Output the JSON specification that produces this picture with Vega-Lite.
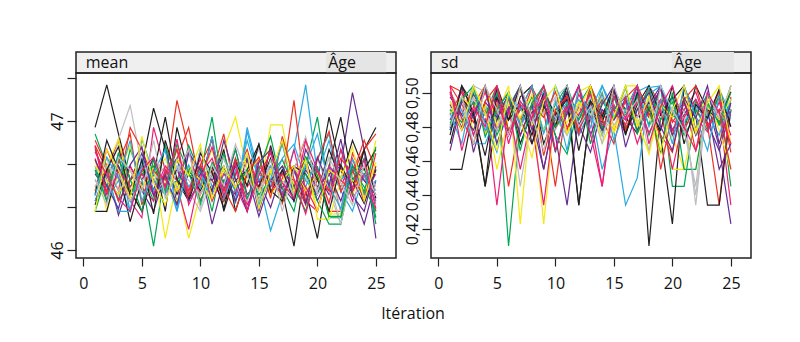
{
"$schema":"https://vega.github.io/schema/vega-lite/v6.json",
"autosize":{"type":"pad"},
"padding":{"left":48,"top":51,"right":5,"bottom":5},
"background":"white",
"config":{"font":"Open Sans","view":{"stroke":"#222","strokeWidth":1.5},"axis":{"domain":false,"grid":false,"tickColor":"#222","labelColor":"#111","labelFontSize":16,"labelFont":"Open Sans","tickWidth":1.2},
 "range":{"category":["#231f20","#ee3124","#00a651","#29abe2","#662d91","#f5e90f","#bcbec0","#ec1e79"]}},
"title":{"text":"Itération","orient":"bottom","anchor":"middle","fontSize":16,"fontWeight":"normal","font":"Open Sans","color":"#111","offset":14,"dx":13},
"datasets":{"traces":[
{"k":1,"i":1,"m":46.95,"s":0.478},{"k":1,"i":2,"m":47.28,"s":0.504},{"k":1,"i":3,"m":46.90,"s":0.493},{"k":1,"i":4,"m":46.54,"s":0.4825},{"k":1,"i":5,"m":46.65,"s":0.502},{"k":1,"i":6,"m":47.10,"s":0.475},{"k":1,"i":7,"m":46.78,"s":0.4975},{"k":1,"i":8,"m":46.43,"s":0.504},{"k":1,"i":9,"m":46.62,"s":0.470},{"k":1,"i":10,"m":46.49,"s":0.487},{"k":1,"i":11,"m":46.88,"s":0.504},{"k":1,"i":12,"m":46.30,"s":0.478},{"k":1,"i":13,"m":46.59,"s":0.4945},{"k":1,"i":14,"m":46.71,"s":0.484},{"k":1,"i":15,"m":46.38,"s":0.5005},{"k":1,"i":16,"m":46.81,"s":0.490},{"k":1,"i":17,"m":46.46,"s":0.504},{"k":1,"i":18,"m":46.03,"s":0.410},{"k":1,"i":19,"m":46.65,"s":0.487},{"k":1,"i":20,"m":46.54,"s":0.496},{"k":1,"i":21,"m":47.03,"s":0.504},{"k":1,"i":22,"m":46.62,"s":0.478},{"k":1,"i":23,"m":46.43,"s":0.493},{"k":1,"i":24,"m":46.78,"s":0.4825},{"k":1,"i":25,"m":46.95,"s":0.504},
{"k":2,"i":1,"m":46.81,"s":0.5005},{"k":2,"i":2,"m":46.62,"s":0.487},{"k":2,"i":3,"m":46.85,"s":0.504},{"k":2,"i":4,"m":46.46,"s":0.476},{"k":2,"i":5,"m":46.30,"s":0.493},{"k":2,"i":6,"m":46.65,"s":0.445},{"k":2,"i":7,"m":46.54,"s":0.484},{"k":2,"i":8,"m":47.16,"s":0.503},{"k":2,"i":9,"m":46.78,"s":0.490},{"k":2,"i":10,"m":46.38,"s":0.445},{"k":2,"i":11,"m":46.59,"s":0.496},{"k":2,"i":12,"m":46.90,"s":0.478},{"k":2,"i":13,"m":46.43,"s":0.504},{"k":2,"i":14,"m":46.70,"s":0.4885},{"k":2,"i":15,"m":46.49,"s":0.478},{"k":2,"i":16,"m":46.78,"s":0.4975},{"k":2,"i":17,"m":46.36,"s":0.4855},{"k":2,"i":18,"m":46.62,"s":0.504},{"k":2,"i":19,"m":46.86,"s":0.493},{"k":2,"i":20,"m":46.46,"s":0.475},{"k":2,"i":21,"m":46.65,"s":0.502},{"k":2,"i":22,"m":46.30,"s":0.490},{"k":2,"i":23,"m":46.75,"s":0.481},{"k":2,"i":24,"m":46.54,"s":0.434},{"k":2,"i":25,"m":46.43,"s":0.4975},
{"k":3,"i":1,"m":46.90,"s":0.490},{"k":3,"i":2,"m":46.65,"s":0.478},{"k":3,"i":3,"m":46.38,"s":0.5005},{"k":3,"i":4,"m":46.78,"s":0.487},{"k":3,"i":5,"m":46.54,"s":0.504},{"k":3,"i":6,"m":46.03,"s":0.410},{"k":3,"i":7,"m":46.62,"s":0.4825},{"k":3,"i":8,"m":46.46,"s":0.4975},{"k":3,"i":9,"m":46.81,"s":0.478},{"k":3,"i":10,"m":46.59,"s":0.493},{"k":3,"i":11,"m":47.03,"s":0.504},{"k":3,"i":12,"m":46.43,"s":0.484},{"k":3,"i":13,"m":46.71,"s":0.496},{"k":3,"i":14,"m":46.30,"s":0.475},{"k":3,"i":15,"m":46.62,"s":0.502},{"k":3,"i":16,"m":46.49,"s":0.4885},{"k":3,"i":17,"m":46.86,"s":0.499},{"k":3,"i":18,"m":46.38,"s":0.481},{"k":3,"i":19,"m":46.65,"s":0.504},{"k":3,"i":20,"m":47.03,"s":0.445},{"k":3,"i":21,"m":46.46,"s":0.445},{"k":3,"i":22,"m":46.78,"s":0.490},{"k":3,"i":23,"m":46.54,"s":0.478},{"k":3,"i":24,"m":46.65,"s":0.499},{"k":3,"i":25,"m":46.25,"s":0.445},
{"k":4,"i":1,"m":46.54,"s":0.484},{"k":4,"i":2,"m":46.43,"s":0.4975},{"k":4,"i":3,"m":46.75,"s":0.475},{"k":4,"i":4,"m":46.30,"s":0.493},{"k":4,"i":5,"m":46.86,"s":0.470},{"k":4,"i":6,"m":46.59,"s":0.4885},{"k":4,"i":7,"m":46.46,"s":0.502},{"k":4,"i":8,"m":46.65,"s":0.481},{"k":4,"i":9,"m":46.38,"s":0.4945},{"k":4,"i":10,"m":46.78,"s":0.4855},{"k":4,"i":11,"m":46.49,"s":0.504},{"k":4,"i":12,"m":46.62,"s":0.478},{"k":4,"i":13,"m":46.36,"s":0.4915},{"k":4,"i":14,"m":46.92,"s":0.455},{"k":4,"i":15,"m":46.54,"s":0.478},{"k":4,"i":16,"m":46.15,"s":0.434},{"k":4,"i":17,"m":46.43,"s":0.450},{"k":4,"i":18,"m":46.78,"s":0.499},{"k":4,"i":19,"m":47.28,"s":0.504},{"k":4,"i":20,"m":46.59,"s":0.487},{"k":4,"i":21,"m":46.85,"s":0.496},{"k":4,"i":22,"m":46.46,"s":0.475},{"k":4,"i":23,"m":46.65,"s":0.5005},{"k":4,"i":24,"m":46.38,"s":0.484},{"k":4,"i":25,"m":46.62,"s":0.493},
{"k":5,"i":1,"m":46.38,"s":0.4795},{"k":5,"i":2,"m":46.62,"s":0.504},{"k":5,"i":3,"m":46.27,"s":0.465},{"k":5,"i":4,"m":46.54,"s":0.490},{"k":5,"i":5,"m":46.75,"s":0.478},{"k":5,"i":6,"m":46.46,"s":0.4975},{"k":5,"i":7,"m":46.81,"s":0.484},{"k":5,"i":8,"m":46.36,"s":0.470},{"k":5,"i":9,"m":46.59,"s":0.493},{"k":5,"i":10,"m":46.65,"s":0.475},{"k":5,"i":11,"m":46.20,"s":0.434},{"k":5,"i":12,"m":46.54,"s":0.487},{"k":5,"i":13,"m":46.43,"s":0.499},{"k":5,"i":14,"m":46.71,"s":0.4795},{"k":5,"i":15,"m":46.30,"s":0.490},{"k":5,"i":16,"m":46.62,"s":0.476},{"k":5,"i":17,"m":46.49,"s":0.496},{"k":5,"i":18,"m":46.38,"s":0.4855},{"k":5,"i":19,"m":46.78,"s":0.503},{"k":5,"i":20,"m":46.59,"s":0.478},{"k":5,"i":21,"m":46.43,"s":0.490},{"k":5,"i":22,"m":46.65,"s":0.477},{"k":5,"i":23,"m":47.22,"s":0.4945},{"k":5,"i":24,"m":46.78,"s":0.468},{"k":5,"i":25,"m":46.09,"s":0.423},
{"k":6,"i":1,"m":46.70,"s":0.493},{"k":6,"i":2,"m":46.30,"s":0.4825},{"k":6,"i":3,"m":46.59,"s":0.502},{"k":6,"i":4,"m":46.81,"s":0.476},{"k":6,"i":5,"m":46.46,"s":0.487},{"k":6,"i":6,"m":46.65,"s":0.504},{"k":6,"i":7,"m":46.09,"s":0.423},{"k":6,"i":8,"m":46.54,"s":0.496},{"k":6,"i":9,"m":46.09,"s":0.423},{"k":6,"i":10,"m":46.43,"s":0.490},{"k":6,"i":11,"m":46.65,"s":0.4765},{"k":6,"i":12,"m":46.78,"s":0.5005},{"k":6,"i":13,"m":47.03,"s":0.504},{"k":6,"i":14,"m":46.62,"s":0.484},{"k":6,"i":15,"m":46.38,"s":0.478},{"k":6,"i":16,"m":46.97,"s":0.504},{"k":6,"i":17,"m":46.97,"s":0.504},{"k":6,"i":18,"m":46.49,"s":0.487},{"k":6,"i":19,"m":46.30,"s":0.464},{"k":6,"i":20,"m":46.59,"s":0.475},{"k":6,"i":21,"m":46.28,"s":0.455},{"k":6,"i":22,"m":46.28,"s":0.455},{"k":6,"i":23,"m":46.54,"s":0.490},{"k":6,"i":24,"m":46.43,"s":0.481},{"k":6,"i":25,"m":46.85,"s":0.504},
{"k":7,"i":1,"m":46.62,"s":0.499},{"k":7,"i":2,"m":46.49,"s":0.490},{"k":7,"i":3,"m":46.86,"s":0.504},{"k":7,"i":4,"m":47.12,"s":0.5005},{"k":7,"i":5,"m":46.65,"s":0.484},{"k":7,"i":6,"m":46.43,"s":0.496},{"k":7,"i":7,"m":46.59,"s":0.445},{"k":7,"i":8,"m":46.71,"s":0.487},{"k":7,"i":9,"m":46.46,"s":0.499},{"k":7,"i":10,"m":46.30,"s":0.478},{"k":7,"i":11,"m":46.56,"s":0.493},{"k":7,"i":12,"m":46.65,"s":0.4855},{"k":7,"i":13,"m":46.38,"s":0.4975},{"k":7,"i":14,"m":46.59,"s":0.475},{"k":7,"i":15,"m":46.78,"s":0.4885},{"k":7,"i":16,"m":46.49,"s":0.502},{"k":7,"i":17,"m":46.62,"s":0.4825},{"k":7,"i":18,"m":46.43,"s":0.493},{"k":7,"i":19,"m":46.54,"s":0.4855},{"k":7,"i":20,"m":46.71,"s":0.496},{"k":7,"i":21,"m":46.46,"s":0.490},{"k":7,"i":22,"m":46.20,"s":0.434},{"k":7,"i":23,"m":46.65,"s":0.499},{"k":7,"i":24,"m":46.59,"s":0.487},{"k":7,"i":25,"m":46.43,"s":0.4945},
{"k":8,"i":1,"m":46.46,"s":0.487},{"k":8,"i":2,"m":46.78,"s":0.5005},{"k":8,"i":3,"m":46.56,"s":0.475},{"k":8,"i":4,"m":46.38,"s":0.4945},{"k":8,"i":5,"m":46.25,"s":0.434},{"k":8,"i":6,"m":46.95,"s":0.4885},{"k":8,"i":7,"m":46.62,"s":0.502},{"k":8,"i":8,"m":46.49,"s":0.4825},{"k":8,"i":9,"m":46.16,"s":0.434},{"k":8,"i":10,"m":46.59,"s":0.490},{"k":8,"i":11,"m":46.71,"s":0.478},{"k":8,"i":12,"m":46.43,"s":0.499},{"k":8,"i":13,"m":46.62,"s":0.4855},{"k":8,"i":14,"m":46.35,"s":0.445},{"k":8,"i":15,"m":46.54,"s":0.493},{"k":8,"i":16,"m":46.65,"s":0.481},{"k":8,"i":17,"m":46.46,"s":0.504},{"k":8,"i":18,"m":46.78,"s":0.487},{"k":8,"i":19,"m":46.38,"s":0.496},{"k":8,"i":20,"m":46.30,"s":0.478},{"k":8,"i":21,"m":46.62,"s":0.490},{"k":8,"i":22,"m":46.49,"s":0.5005},{"k":8,"i":23,"m":46.71,"s":0.4795},{"k":8,"i":24,"m":46.43,"s":0.490},{"k":8,"i":25,"m":46.59,"s":0.434},
{"k":9,"i":1,"m":46.30,"s":0.455},{"k":9,"i":2,"m":46.30,"s":0.455},{"k":9,"i":3,"m":46.65,"s":0.490},{"k":9,"i":4,"m":46.46,"s":0.445},{"k":9,"i":5,"m":46.30,"s":0.484},{"k":9,"i":6,"m":46.59,"s":0.499},{"k":9,"i":7,"m":47.03,"s":0.470},{"k":9,"i":8,"m":46.54,"s":0.4885},{"k":9,"i":9,"m":46.38,"s":0.493},{"k":9,"i":10,"m":46.65,"s":0.481},{"k":9,"i":11,"m":46.46,"s":0.5005},{"k":9,"i":12,"m":46.78,"s":0.434},{"k":9,"i":13,"m":46.30,"s":0.490},{"k":9,"i":14,"m":46.59,"s":0.478},{"k":9,"i":15,"m":46.49,"s":0.4975},{"k":9,"i":16,"m":46.71,"s":0.4855},{"k":9,"i":17,"m":46.38,"s":0.476},{"k":9,"i":18,"m":46.62,"s":0.4945},{"k":9,"i":19,"m":46.46,"s":0.475},{"k":9,"i":20,"m":46.09,"s":0.423},{"k":9,"i":21,"m":46.65,"s":0.503},{"k":9,"i":22,"m":47.03,"s":0.487},{"k":9,"i":23,"m":46.54,"s":0.434},{"k":9,"i":24,"m":46.36,"s":0.434},{"k":9,"i":25,"m":46.62,"s":0.490},
{"k":10,"i":1,"m":46.85,"s":0.504},{"k":10,"i":2,"m":46.65,"s":0.493},{"k":10,"i":3,"m":46.46,"s":0.4825},{"k":10,"i":4,"m":46.95,"s":0.5005},{"k":10,"i":5,"m":46.78,"s":0.487},{"k":10,"i":6,"m":46.54,"s":0.496},{"k":10,"i":7,"m":46.43,"s":0.475},{"k":10,"i":8,"m":46.71,"s":0.4915},{"k":10,"i":9,"m":46.95,"s":0.504},{"k":10,"i":10,"m":46.49,"s":0.484},{"k":10,"i":11,"m":46.62,"s":0.4975},{"k":10,"i":12,"m":46.38,"s":0.478},{"k":10,"i":13,"m":46.59,"s":0.493},{"k":10,"i":14,"m":46.78,"s":0.487},{"k":10,"i":15,"m":46.46,"s":0.5005},{"k":10,"i":16,"m":46.65,"s":0.4795},{"k":10,"i":17,"m":46.54,"s":0.490},{"k":10,"i":18,"m":47.16,"s":0.502},{"k":10,"i":19,"m":46.43,"s":0.455},{"k":10,"i":20,"m":46.62,"s":0.4885},{"k":10,"i":21,"m":46.30,"s":0.496},{"k":10,"i":22,"m":46.30,"s":0.466},{"k":10,"i":23,"m":46.59,"s":0.487},{"k":10,"i":24,"m":46.78,"s":0.4975},{"k":10,"i":25,"m":46.90,"s":0.470},
{"k":11,"i":1,"m":46.30,"s":0.481},{"k":11,"i":2,"m":46.59,"s":0.496},{"k":11,"i":3,"m":46.71,"s":0.487},{"k":11,"i":4,"m":46.49,"s":0.502},{"k":11,"i":5,"m":46.62,"s":0.475},{"k":11,"i":6,"m":46.38,"s":0.4915},{"k":11,"i":7,"m":46.81,"s":0.504},{"k":11,"i":8,"m":46.54,"s":0.4825},{"k":11,"i":9,"m":46.43,"s":0.499},{"k":11,"i":10,"m":46.65,"s":0.475},{"k":11,"i":11,"m":46.30,"s":0.464},{"k":11,"i":12,"m":46.75,"s":0.493},{"k":11,"i":13,"m":46.46,"s":0.504},{"k":11,"i":14,"m":46.62,"s":0.4855},{"k":11,"i":15,"m":46.38,"s":0.4975},{"k":11,"i":16,"m":46.59,"s":0.478},{"k":11,"i":17,"m":46.70,"s":0.490},{"k":11,"i":18,"m":46.49,"s":0.502},{"k":11,"i":19,"m":46.30,"s":0.484},{"k":11,"i":20,"m":46.65,"s":0.4945},{"k":11,"i":21,"m":46.25,"s":0.475},{"k":11,"i":22,"m":46.25,"s":0.487},{"k":11,"i":23,"m":46.54,"s":0.499},{"k":11,"i":24,"m":46.71,"s":0.481},{"k":11,"i":25,"m":46.20,"s":0.490},
{"k":12,"i":1,"m":46.65,"s":0.499},{"k":12,"i":2,"m":46.38,"s":0.4855},{"k":12,"i":3,"m":46.54,"s":0.4945},{"k":12,"i":4,"m":46.30,"s":0.478},{"k":12,"i":5,"m":46.71,"s":0.490},{"k":12,"i":6,"m":46.46,"s":0.5005},{"k":12,"i":7,"m":46.59,"s":0.4825},{"k":12,"i":8,"m":46.30,"s":0.493},{"k":12,"i":9,"m":46.78,"s":0.4765},{"k":12,"i":10,"m":46.54,"s":0.504},{"k":12,"i":11,"m":46.43,"s":0.487},{"k":12,"i":12,"m":46.65,"s":0.496},{"k":12,"i":13,"m":46.38,"s":0.4795},{"k":12,"i":14,"m":46.95,"s":0.504},{"k":12,"i":15,"m":46.59,"s":0.490},{"k":12,"i":16,"m":46.49,"s":0.484},{"k":12,"i":17,"m":46.71,"s":0.5005},{"k":12,"i":18,"m":46.82,"s":0.504},{"k":12,"i":19,"m":46.54,"s":0.4885},{"k":12,"i":20,"m":46.43,"s":0.4975},{"k":12,"i":21,"m":46.65,"s":0.478},{"k":12,"i":22,"m":46.46,"s":0.4915},{"k":12,"i":23,"m":46.30,"s":0.484},{"k":12,"i":24,"m":46.59,"s":0.502},{"k":12,"i":25,"m":46.46,"s":0.487},
{"k":13,"i":1,"m":46.78,"s":0.493},{"k":13,"i":2,"m":46.54,"s":0.4795},{"k":13,"i":3,"m":46.43,"s":0.499},{"k":13,"i":4,"m":46.65,"s":0.487},{"k":13,"i":5,"m":46.46,"s":0.4975},{"k":13,"i":6,"m":46.30,"s":0.475},{"k":13,"i":7,"m":46.59,"s":0.4915},{"k":13,"i":8,"m":46.71,"s":0.484},{"k":13,"i":9,"m":46.38,"s":0.455},{"k":13,"i":10,"m":46.54,"s":0.4885},{"k":13,"i":11,"m":46.65,"s":0.5005},{"k":13,"i":12,"m":46.46,"s":0.481},{"k":13,"i":13,"m":46.78,"s":0.4945},{"k":13,"i":14,"m":46.43,"s":0.478},{"k":13,"i":15,"m":46.54,"s":0.490},{"k":13,"i":16,"m":46.33,"s":0.4975},{"k":13,"i":17,"m":46.62,"s":0.4855},{"k":13,"i":18,"m":46.49,"s":0.493},{"k":13,"i":19,"m":46.71,"s":0.504},{"k":13,"i":20,"m":46.38,"s":0.475},{"k":13,"i":21,"m":46.59,"s":0.487},{"k":13,"i":22,"m":46.65,"s":0.496},{"k":13,"i":23,"m":46.46,"s":0.4825},{"k":13,"i":24,"m":46.20,"s":0.466},{"k":13,"i":25,"m":46.54,"s":0.490},
{"k":14,"i":1,"m":46.46,"s":0.4885},{"k":14,"i":2,"m":46.65,"s":0.4975},{"k":14,"i":3,"m":46.86,"s":0.478},{"k":14,"i":4,"m":46.43,"s":0.493},{"k":14,"i":5,"m":46.59,"s":0.455},{"k":14,"i":6,"m":46.71,"s":0.4855},{"k":14,"i":7,"m":46.49,"s":0.502},{"k":14,"i":8,"m":46.38,"s":0.481},{"k":14,"i":9,"m":46.62,"s":0.4915},{"k":14,"i":10,"m":46.54,"s":0.484},{"k":14,"i":11,"m":46.78,"s":0.476},{"k":14,"i":12,"m":46.43,"s":0.4945},{"k":14,"i":13,"m":46.65,"s":0.487},{"k":14,"i":14,"m":46.54,"s":0.4975},{"k":14,"i":15,"m":46.46,"s":0.4765},{"k":14,"i":16,"m":46.62,"s":0.490},{"k":14,"i":17,"m":46.38,"s":0.481},{"k":14,"i":18,"m":46.59,"s":0.466},{"k":14,"i":19,"m":46.71,"s":0.493},{"k":14,"i":20,"m":46.24,"s":0.455},{"k":14,"i":21,"m":46.24,"s":0.455},{"k":14,"i":22,"m":46.54,"s":0.487},{"k":14,"i":23,"m":46.43,"s":0.496},{"k":14,"i":24,"m":46.65,"s":0.478},{"k":14,"i":25,"m":46.59,"s":0.455},
{"k":15,"i":1,"m":46.59,"s":0.4945},{"k":15,"i":2,"m":46.71,"s":0.4855},{"k":15,"i":3,"m":46.46,"s":0.4975},{"k":15,"i":4,"m":46.62,"s":0.481},{"k":15,"i":5,"m":46.38,"s":0.490},{"k":15,"i":6,"m":46.54,"s":0.5005},{"k":15,"i":7,"m":46.65,"s":0.4795},{"k":15,"i":8,"m":46.49,"s":0.493},{"k":15,"i":9,"m":46.43,"s":0.487},{"k":15,"i":10,"m":46.78,"s":0.4975},{"k":15,"i":11,"m":46.54,"s":0.475},{"k":15,"i":12,"m":46.38,"s":0.490},{"k":15,"i":13,"m":46.62,"s":0.484},{"k":15,"i":14,"m":46.59,"s":0.496},{"k":15,"i":15,"m":46.46,"s":0.4885},{"k":15,"i":16,"m":46.65,"s":0.499},{"k":15,"i":17,"m":46.54,"s":0.481},{"k":15,"i":18,"m":46.43,"s":0.493},{"k":15,"i":19,"m":46.62,"s":0.4855},{"k":15,"i":20,"m":46.49,"s":0.496},{"k":15,"i":21,"m":46.71,"s":0.4885},{"k":15,"i":22,"m":46.30,"s":0.478},{"k":15,"i":23,"m":46.59,"s":0.493},{"k":15,"i":24,"m":46.65,"s":0.4855},{"k":15,"i":25,"m":46.46,"s":0.496},
{"k":16,"i":1,"m":46.71,"s":0.484},{"k":16,"i":2,"m":46.43,"s":0.496},{"k":16,"i":3,"m":46.59,"s":0.4885},{"k":16,"i":4,"m":46.65,"s":0.5005},{"k":16,"i":5,"m":46.49,"s":0.478},{"k":16,"i":6,"m":46.38,"s":0.4915},{"k":16,"i":7,"m":46.62,"s":0.455},{"k":16,"i":8,"m":46.54,"s":0.487},{"k":16,"i":9,"m":46.78,"s":0.4975},{"k":16,"i":10,"m":46.43,"s":0.481},{"k":16,"i":11,"m":46.59,"s":0.493},{"k":16,"i":12,"m":46.46,"s":0.475},{"k":16,"i":13,"m":46.65,"s":0.4885},{"k":16,"i":14,"m":46.38,"s":0.499},{"k":16,"i":15,"m":46.71,"s":0.484},{"k":16,"i":16,"m":46.49,"s":0.4945},{"k":16,"i":17,"m":46.59,"s":0.470},{"k":16,"i":18,"m":46.54,"s":0.490},{"k":16,"i":19,"m":46.28,"s":0.502},{"k":16,"i":20,"m":46.62,"s":0.4825},{"k":16,"i":21,"m":46.46,"s":0.493},{"k":16,"i":22,"m":46.65,"s":0.4855},{"k":16,"i":23,"m":46.38,"s":0.477},{"k":16,"i":24,"m":46.59,"s":0.4945},{"k":16,"i":25,"m":46.30,"s":0.475},
{"k":17,"i":1,"m":46.43,"s":0.470},{"k":17,"i":2,"m":46.85,"s":0.4975},{"k":17,"i":3,"m":46.62,"s":0.487},{"k":17,"i":4,"m":46.22,"s":0.445},{"k":17,"i":5,"m":46.54,"s":0.504},{"k":17,"i":6,"m":46.71,"s":0.484},{"k":17,"i":7,"m":46.30,"s":0.493},{"k":17,"i":8,"m":46.95,"s":0.475},{"k":17,"i":9,"m":46.59,"s":0.5005},{"k":17,"i":10,"m":46.46,"s":0.487},{"k":17,"i":11,"m":46.65,"s":0.496},{"k":17,"i":12,"m":46.38,"s":0.434},{"k":17,"i":13,"m":46.54,"s":0.490},{"k":17,"i":14,"m":46.62,"s":0.4825},{"k":17,"i":15,"m":46.82,"s":0.502},{"k":17,"i":16,"m":46.46,"s":0.476},{"k":17,"i":17,"m":46.38,"s":0.493},{"k":17,"i":18,"m":46.65,"s":0.504},{"k":17,"i":19,"m":46.59,"s":0.487},{"k":17,"i":20,"m":46.43,"s":0.4975},{"k":17,"i":21,"m":46.78,"s":0.478},{"k":17,"i":22,"m":46.54,"s":0.504},{"k":17,"i":23,"m":46.85,"s":0.490},{"k":17,"i":24,"m":46.62,"s":0.484},{"k":17,"i":25,"m":46.78,"s":0.5005},
{"k":18,"i":1,"m":46.49,"s":0.504},{"k":18,"i":2,"m":46.62,"s":0.5005},{"k":18,"i":3,"m":46.38,"s":0.493},{"k":18,"i":4,"m":46.54,"s":0.504},{"k":18,"i":5,"m":46.65,"s":0.487},{"k":18,"i":6,"m":46.43,"s":0.4975},{"k":18,"i":7,"m":46.59,"s":0.481},{"k":18,"i":8,"m":46.78,"s":0.493},{"k":18,"i":9,"m":46.46,"s":0.4855},{"k":18,"i":10,"m":46.65,"s":0.5005},{"k":18,"i":11,"m":46.54,"s":0.4795},{"k":18,"i":12,"m":46.38,"s":0.4915},{"k":18,"i":13,"m":46.71,"s":0.484},{"k":18,"i":14,"m":46.49,"s":0.496},{"k":18,"i":15,"m":46.62,"s":0.490},{"k":18,"i":16,"m":46.43,"s":0.478},{"k":18,"i":17,"m":46.59,"s":0.4975},{"k":18,"i":18,"m":46.65,"s":0.487},{"k":18,"i":19,"m":46.38,"s":0.4945},{"k":18,"i":20,"m":46.54,"s":0.484},{"k":18,"i":21,"m":46.46,"s":0.478},{"k":18,"i":22,"m":46.71,"s":0.493},{"k":18,"i":23,"m":46.59,"s":0.4855},{"k":18,"i":24,"m":46.85,"s":0.5005},{"k":18,"i":25,"m":46.62,"s":0.465},
{"k":19,"i":1,"m":46.62,"s":0.490},{"k":19,"i":2,"m":46.49,"s":0.4825},{"k":19,"i":3,"m":46.71,"s":0.4945},{"k":19,"i":4,"m":46.43,"s":0.487},{"k":19,"i":5,"m":46.59,"s":0.499},{"k":19,"i":6,"m":46.65,"s":0.478},{"k":19,"i":7,"m":46.46,"s":0.490},{"k":19,"i":8,"m":46.54,"s":0.4855},{"k":19,"i":9,"m":46.65,"s":0.496},{"k":19,"i":10,"m":46.38,"s":0.465},{"k":19,"i":11,"m":46.59,"s":0.493},{"k":19,"i":12,"m":46.71,"s":0.484},{"k":19,"i":13,"m":46.49,"s":0.5005},{"k":19,"i":14,"m":46.62,"s":0.4795},{"k":19,"i":15,"m":46.43,"s":0.4915},{"k":19,"i":16,"m":46.54,"s":0.487},{"k":19,"i":17,"m":46.65,"s":0.4975},{"k":19,"i":18,"m":46.46,"s":0.475},{"k":19,"i":19,"m":46.59,"s":0.493},{"k":19,"i":20,"m":46.38,"s":0.487},{"k":19,"i":21,"m":46.20,"s":0.481},{"k":19,"i":22,"m":46.20,"s":0.4945},{"k":19,"i":23,"m":46.62,"s":0.4855},{"k":19,"i":24,"m":46.49,"s":0.4975},{"k":19,"i":25,"m":46.30,"s":0.4885},
{"k":20,"i":1,"m":46.38,"s":0.478},{"k":20,"i":2,"m":46.59,"s":0.490},{"k":20,"i":3,"m":46.30,"s":0.470},{"k":20,"i":4,"m":46.30,"s":0.470},{"k":20,"i":5,"m":46.65,"s":0.487},{"k":20,"i":6,"m":46.54,"s":0.4975},{"k":20,"i":7,"m":46.43,"s":0.481},{"k":20,"i":8,"m":46.71,"s":0.4915},{"k":20,"i":9,"m":46.49,"s":0.5005},{"k":20,"i":10,"m":46.62,"s":0.484},{"k":20,"i":11,"m":46.38,"s":0.4945},{"k":20,"i":12,"m":46.59,"s":0.475},{"k":20,"i":13,"m":46.46,"s":0.490},{"k":20,"i":14,"m":46.85,"s":0.504},{"k":20,"i":15,"m":46.54,"s":0.4855},{"k":20,"i":16,"m":46.65,"s":0.496},{"k":20,"i":17,"m":46.43,"s":0.478},{"k":20,"i":18,"m":46.62,"s":0.503},{"k":20,"i":19,"m":46.49,"s":0.504},{"k":20,"i":20,"m":46.71,"s":0.4885},{"k":20,"i":21,"m":46.90,"s":0.4825},{"k":20,"i":22,"m":46.54,"s":0.493},{"k":20,"i":23,"m":46.65,"s":0.487},{"k":20,"i":24,"m":46.43,"s":0.475},{"k":20,"i":25,"m":46.54,"s":0.496},
{"k":21,"i":1,"m":46.59,"s":0.4975},{"k":21,"i":2,"m":46.46,"s":0.487},{"k":21,"i":3,"m":46.65,"s":0.478},{"k":21,"i":4,"m":46.38,"s":0.4945},{"k":21,"i":5,"m":46.54,"s":0.4855},{"k":21,"i":6,"m":46.71,"s":0.499},{"k":21,"i":7,"m":46.49,"s":0.475},{"k":21,"i":8,"m":46.62,"s":0.493},{"k":21,"i":9,"m":46.43,"s":0.455},{"k":21,"i":10,"m":46.59,"s":0.4885},{"k":21,"i":11,"m":46.54,"s":0.4975},{"k":21,"i":12,"m":46.65,"s":0.481},{"k":21,"i":13,"m":46.38,"s":0.465},{"k":21,"i":14,"m":46.59,"s":0.490},{"k":21,"i":15,"m":46.26,"s":0.484},{"k":21,"i":16,"m":46.54,"s":0.496},{"k":21,"i":17,"m":46.65,"s":0.478},{"k":21,"i":18,"m":46.46,"s":0.490},{"k":21,"i":19,"m":46.62,"s":0.502},{"k":21,"i":20,"m":46.49,"s":0.4855},{"k":21,"i":21,"m":46.59,"s":0.4945},{"k":21,"i":22,"m":46.38,"s":0.475},{"k":21,"i":23,"m":46.65,"s":0.490},{"k":21,"i":24,"m":46.54,"s":0.455},{"k":21,"i":25,"m":46.43,"s":0.470},
{"k":22,"i":1,"m":46.65,"s":0.487},{"k":22,"i":2,"m":46.54,"s":0.4975},{"k":22,"i":3,"m":46.43,"s":0.490},{"k":22,"i":4,"m":46.62,"s":0.504},{"k":22,"i":5,"m":46.49,"s":0.481},{"k":22,"i":6,"m":46.59,"s":0.493},{"k":22,"i":7,"m":46.71,"s":0.4855},{"k":22,"i":8,"m":46.46,"s":0.499},{"k":22,"i":9,"m":46.65,"s":0.478},{"k":22,"i":10,"m":46.54,"s":0.490},{"k":22,"i":11,"m":46.38,"s":0.4825},{"k":22,"i":12,"m":46.62,"s":0.4945},{"k":22,"i":13,"m":46.49,"s":0.487},{"k":22,"i":14,"m":46.59,"s":0.5005},{"k":22,"i":15,"m":46.71,"s":0.4795},{"k":22,"i":16,"m":46.43,"s":0.490},{"k":22,"i":17,"m":46.54,"s":0.484},{"k":22,"i":18,"m":46.65,"s":0.464},{"k":22,"i":19,"m":46.46,"s":0.493},{"k":22,"i":20,"m":46.59,"s":0.4855},{"k":22,"i":21,"m":46.38,"s":0.4975},{"k":22,"i":22,"m":46.62,"s":0.478},{"k":22,"i":23,"m":46.54,"s":0.4915},{"k":22,"i":24,"m":46.46,"s":0.484},{"k":22,"i":25,"m":46.65,"s":0.496},
{"k":23,"i":1,"m":46.49,"s":0.4915},{"k":23,"i":2,"m":46.65,"s":0.484},{"k":23,"i":3,"m":46.59,"s":0.496},{"k":23,"i":4,"m":46.38,"s":0.487},{"k":23,"i":5,"m":46.54,"s":0.478},{"k":23,"i":6,"m":46.62,"s":0.499},{"k":23,"i":7,"m":46.46,"s":0.490},{"k":23,"i":8,"m":46.65,"s":0.4825},{"k":23,"i":9,"m":46.54,"s":0.4945},{"k":23,"i":10,"m":46.43,"s":0.4855},{"k":23,"i":11,"m":46.59,"s":0.475},{"k":23,"i":12,"m":46.71,"s":0.493},{"k":23,"i":13,"m":46.49,"s":0.487},{"k":23,"i":14,"m":46.38,"s":0.4975},{"k":23,"i":15,"m":46.62,"s":0.481},{"k":23,"i":16,"m":46.54,"s":0.490},{"k":23,"i":17,"m":46.46,"s":0.4855},{"k":23,"i":18,"m":46.59,"s":0.496},{"k":23,"i":19,"m":46.65,"s":0.478},{"k":23,"i":20,"m":46.43,"s":0.4915},{"k":23,"i":21,"m":46.54,"s":0.484},{"k":23,"i":22,"m":46.20,"s":0.440},{"k":23,"i":23,"m":46.59,"s":0.493},{"k":23,"i":24,"m":46.65,"s":0.4855},{"k":23,"i":25,"m":46.49,"s":0.490},
{"k":24,"i":1,"m":46.81,"s":0.5005},{"k":24,"i":2,"m":46.38,"s":0.478},{"k":24,"i":3,"m":46.62,"s":0.490},{"k":24,"i":4,"m":46.49,"s":0.484},{"k":24,"i":5,"m":46.59,"s":0.496},{"k":24,"i":6,"m":46.43,"s":0.475},{"k":24,"i":7,"m":46.65,"s":0.493},{"k":24,"i":8,"m":46.54,"s":0.4855},{"k":24,"i":9,"m":46.46,"s":0.4975},{"k":24,"i":10,"m":46.71,"s":0.4795},{"k":24,"i":11,"m":46.38,"s":0.4915},{"k":24,"i":12,"m":46.59,"s":0.487},{"k":24,"i":13,"m":46.49,"s":0.499},{"k":24,"i":14,"m":46.30,"s":0.481},{"k":24,"i":15,"m":46.65,"s":0.490},{"k":24,"i":16,"m":46.54,"s":0.484},{"k":24,"i":17,"m":46.43,"s":0.4945},{"k":24,"i":18,"m":46.62,"s":0.4765},{"k":24,"i":19,"m":46.49,"s":0.490},{"k":24,"i":20,"m":46.30,"s":0.455},{"k":24,"i":21,"m":46.65,"s":0.4855},{"k":24,"i":22,"m":46.54,"s":0.496},{"k":24,"i":23,"m":46.46,"s":0.481},{"k":24,"i":24,"m":46.59,"s":0.490},{"k":24,"i":25,"m":46.38,"s":0.487},
{"k":25,"i":1,"m":46.35,"s":0.475},{"k":25,"i":2,"m":46.62,"s":0.504},{"k":25,"i":3,"m":46.80,"s":0.488},{"k":25,"i":4,"m":46.42,"s":0.463},{"k":25,"i":5,"m":46.70,"s":0.497},{"k":25,"i":6,"m":46.28,"s":0.484},{"k":25,"i":7,"m":46.85,"s":0.504},{"k":25,"i":8,"m":46.55,"s":0.470},{"k":25,"i":9,"m":46.40,"s":0.492},{"k":25,"i":10,"m":46.75,"s":0.480},{"k":25,"i":11,"m":46.60,"s":0.504},{"k":25,"i":12,"m":46.32,"s":0.466},{"k":25,"i":13,"m":46.68,"s":0.495},{"k":25,"i":14,"m":46.50,"s":0.486},{"k":25,"i":15,"m":46.82,"s":0.504},{"k":25,"i":16,"m":46.45,"s":0.475},{"k":25,"i":17,"m":46.62,"s":0.500},{"k":25,"i":18,"m":46.38,"s":0.490},{"k":25,"i":19,"m":46.72,"s":0.478},{"k":25,"i":20,"m":46.55,"s":0.504},{"k":25,"i":21,"m":46.30,"s":0.470},{"k":25,"i":22,"m":46.66,"s":0.493},{"k":25,"i":23,"m":46.48,"s":0.485},{"k":25,"i":24,"m":46.78,"s":0.502},{"k":25,"i":25,"m":46.40,"s":0.480},
{"k":26,"i":1,"m":46.80,"s":0.500},{"k":26,"i":2,"m":46.45,"s":0.485},{"k":26,"i":3,"m":46.68,"s":0.470},{"k":26,"i":4,"m":46.90,"s":0.495},{"k":26,"i":5,"m":46.35,"s":0.504},{"k":26,"i":6,"m":46.62,"s":0.478},{"k":26,"i":7,"m":46.50,"s":0.490},{"k":26,"i":8,"m":46.78,"s":0.504},{"k":26,"i":9,"m":46.42,"s":0.463},{"k":26,"i":10,"m":46.66,"s":0.490},{"k":26,"i":11,"m":46.85,"s":0.498},{"k":26,"i":12,"m":46.48,"s":0.476},{"k":26,"i":13,"m":46.30,"s":0.504},{"k":26,"i":14,"m":46.60,"s":0.484},{"k":26,"i":15,"m":46.72,"s":0.470},{"k":26,"i":16,"m":46.40,"s":0.497},{"k":26,"i":17,"m":46.88,"s":0.504},{"k":26,"i":18,"m":46.55,"s":0.488},{"k":26,"i":19,"m":46.35,"s":0.475},{"k":26,"i":20,"m":46.70,"s":0.465},{"k":26,"i":21,"m":46.92,"s":0.496},{"k":26,"i":22,"m":46.45,"s":0.504},{"k":26,"i":23,"m":46.62,"s":0.480},{"k":26,"i":24,"m":46.38,"s":0.490},{"k":26,"i":25,"m":46.75,"s":0.455},
{"k":27,"i":1,"m":46.62,"s":0.482},{"k":27,"i":2,"m":46.38,"s":0.496},{"k":27,"i":3,"m":46.75,"s":0.504},{"k":27,"i":4,"m":46.55,"s":0.474},{"k":27,"i":5,"m":46.30,"s":0.490},{"k":27,"i":6,"m":46.70,"s":0.500},{"k":27,"i":7,"m":46.45,"s":0.466},{"k":27,"i":8,"m":46.82,"s":0.494},{"k":27,"i":9,"m":46.60,"s":0.504},{"k":27,"i":10,"m":46.35,"s":0.480},{"k":27,"i":11,"m":46.68,"s":0.488},{"k":27,"i":12,"m":46.52,"s":0.504},{"k":27,"i":13,"m":46.78,"s":0.470},{"k":27,"i":14,"m":46.40,"s":0.495},{"k":27,"i":15,"m":46.62,"s":0.485},{"k":27,"i":16,"m":46.88,"s":0.504},{"k":27,"i":17,"m":46.48,"s":0.476},{"k":27,"i":18,"m":46.30,"s":0.492},{"k":27,"i":19,"m":46.72,"s":0.465},{"k":27,"i":20,"m":46.58,"s":0.500},{"k":27,"i":21,"m":46.26,"s":0.455},{"k":27,"i":22,"m":46.26,"s":0.455},{"k":27,"i":23,"m":46.66,"s":0.494},{"k":27,"i":24,"m":46.45,"s":0.482},{"k":27,"i":25,"m":46.80,"s":0.500},
{"k":28,"i":1,"m":46.42,"s":0.488},{"k":28,"i":2,"m":46.72,"s":0.470},{"k":28,"i":3,"m":46.55,"s":0.504},{"k":28,"i":4,"m":46.85,"s":0.482},{"k":28,"i":5,"m":46.38,"s":0.465},{"k":28,"i":6,"m":46.60,"s":0.498},{"k":28,"i":7,"m":46.78,"s":0.490},{"k":28,"i":8,"m":46.30,"s":0.504},{"k":28,"i":9,"m":46.66,"s":0.476},{"k":28,"i":10,"m":46.48,"s":0.495},{"k":28,"i":11,"m":46.88,"s":0.466},{"k":28,"i":12,"m":46.40,"s":0.504},{"k":28,"i":13,"m":46.62,"s":0.484},{"k":28,"i":14,"m":46.74,"s":0.500},{"k":28,"i":15,"m":46.35,"s":0.472},{"k":28,"i":16,"m":46.55,"s":0.490},{"k":28,"i":17,"m":46.82,"s":0.504},{"k":28,"i":18,"m":46.45,"s":0.480},{"k":28,"i":19,"m":46.65,"s":0.495},{"k":28,"i":20,"m":46.90,"s":0.470},{"k":28,"i":21,"m":46.50,"s":0.504},{"k":28,"i":22,"m":46.32,"s":0.486},{"k":28,"i":23,"m":46.70,"s":0.466},{"k":28,"i":24,"m":46.58,"s":0.498},{"k":28,"i":25,"m":46.36,"s":0.485},
{"k":29,"i":1,"m":46.70,"s":0.466},{"k":29,"i":2,"m":46.50,"s":0.495},{"k":29,"i":3,"m":46.32,"s":0.485},{"k":29,"i":4,"m":46.66,"s":0.504},{"k":29,"i":5,"m":46.80,"s":0.470},{"k":29,"i":6,"m":46.42,"s":0.490},{"k":29,"i":7,"m":46.58,"s":0.504},{"k":29,"i":8,"m":46.35,"s":0.478},{"k":29,"i":9,"m":46.75,"s":0.496},{"k":29,"i":10,"m":46.62,"s":0.466},{"k":29,"i":11,"m":46.45,"s":0.488},{"k":29,"i":12,"m":46.85,"s":0.504},{"k":29,"i":13,"m":46.55,"s":0.475},{"k":29,"i":14,"m":46.30,"s":0.493},{"k":29,"i":15,"m":46.68,"s":0.504},{"k":29,"i":16,"m":46.78,"s":0.468},{"k":29,"i":17,"m":46.40,"s":0.490},{"k":29,"i":18,"m":46.62,"s":0.500},{"k":29,"i":19,"m":46.36,"s":0.480},{"k":29,"i":20,"m":46.72,"s":0.466},{"k":29,"i":21,"m":46.50,"s":0.497},{"k":29,"i":22,"m":46.86,"s":0.485},{"k":29,"i":23,"m":46.42,"s":0.504},{"k":29,"i":24,"m":46.30,"s":0.470},{"k":29,"i":25,"m":46.65,"s":0.494},
{"k":30,"i":1,"m":46.30,"s":0.495},{"k":30,"i":2,"m":46.78,"s":0.478},{"k":30,"i":3,"m":46.62,"s":0.504},{"k":30,"i":4,"m":46.40,"s":0.488},{"k":30,"i":5,"m":46.88,"s":0.466},{"k":30,"i":6,"m":46.52,"s":0.500},{"k":30,"i":7,"m":46.35,"s":0.484},{"k":30,"i":8,"m":46.70,"s":0.462},{"k":30,"i":9,"m":46.58,"s":0.495},{"k":30,"i":10,"m":46.82,"s":0.504},{"k":30,"i":11,"m":46.40,"s":0.476},{"k":30,"i":12,"m":46.65,"s":0.490},{"k":30,"i":13,"m":46.48,"s":0.504},{"k":30,"i":14,"m":46.75,"s":0.470},{"k":30,"i":15,"m":46.32,"s":0.486},{"k":30,"i":16,"m":46.60,"s":0.504},{"k":30,"i":17,"m":46.85,"s":0.480},{"k":30,"i":18,"m":46.45,"s":0.498},{"k":30,"i":19,"m":46.70,"s":0.466},{"k":30,"i":20,"m":46.30,"s":0.490},{"k":30,"i":21,"m":46.62,"s":0.504},{"k":30,"i":22,"m":46.55,"s":0.476},{"k":30,"i":23,"m":46.80,"s":0.494},{"k":30,"i":24,"m":46.38,"s":0.504},{"k":30,"i":25,"m":46.68,"s":0.470},
{"k":31,"i":1,"m":46.55,"s":0.480},{"k":31,"i":2,"m":46.35,"s":0.498},{"k":31,"i":3,"m":46.72,"s":0.470},{"k":31,"i":4,"m":46.62,"s":0.504},{"k":31,"i":5,"m":46.45,"s":0.490},{"k":31,"i":6,"m":46.85,"s":0.475},{"k":31,"i":7,"m":46.40,"s":0.504},{"k":31,"i":8,"m":46.60,"s":0.486},{"k":31,"i":9,"m":46.78,"s":0.466},{"k":31,"i":10,"m":46.32,"s":0.497},{"k":31,"i":11,"m":46.66,"s":0.504},{"k":31,"i":12,"m":46.50,"s":0.480},{"k":31,"i":13,"m":46.82,"s":0.492},{"k":31,"i":14,"m":46.58,"s":0.470},{"k":31,"i":15,"m":46.38,"s":0.504},{"k":31,"i":16,"m":46.70,"s":0.485},{"k":31,"i":17,"m":46.30,"s":0.496},{"k":31,"i":18,"m":46.62,"s":0.466},{"k":31,"i":19,"m":46.88,"s":0.504},{"k":31,"i":20,"m":46.45,"s":0.490},{"k":31,"i":21,"m":46.72,"s":0.478},{"k":31,"i":22,"m":46.52,"s":0.445},{"k":31,"i":23,"m":46.35,"s":0.500},{"k":31,"i":24,"m":46.66,"s":0.485},{"k":31,"i":25,"m":46.42,"s":0.504},
{"k":32,"i":1,"m":46.76,"s":0.504},{"k":32,"i":2,"m":46.58,"s":0.466},{"k":32,"i":3,"m":46.40,"s":0.492},{"k":32,"i":4,"m":46.30,"s":0.480},{"k":32,"i":5,"m":46.62,"s":0.504},{"k":32,"i":6,"m":46.72,"s":0.470},{"k":32,"i":7,"m":46.48,"s":0.495},{"k":32,"i":8,"m":46.86,"s":0.485},{"k":32,"i":9,"m":46.35,"s":0.504},{"k":32,"i":10,"m":46.55,"s":0.466},{"k":32,"i":11,"m":46.80,"s":0.490},{"k":32,"i":12,"m":46.42,"s":0.504},{"k":32,"i":13,"m":46.68,"s":0.476},{"k":32,"i":14,"m":46.30,"s":0.445},{"k":32,"i":15,"m":46.58,"s":0.498},{"k":32,"i":16,"m":46.75,"s":0.485},{"k":32,"i":17,"m":46.52,"s":0.504},{"k":32,"i":18,"m":46.40,"s":0.470},{"k":32,"i":19,"m":46.85,"s":0.492},{"k":32,"i":20,"m":46.62,"s":0.504},{"k":32,"i":21,"m":46.36,"s":0.480},{"k":32,"i":22,"m":46.78,"s":0.466},{"k":32,"i":23,"m":46.48,"s":0.500},{"k":32,"i":24,"m":46.70,"s":0.488},{"k":32,"i":25,"m":46.32,"s":0.470}
]},
"columns":2,
"spacing":{"row":0,"column":35},
"bounds":"flush",
"concat":[
{"width":320,"height":21,
 "data":{"values":[{"stat":"mean","var":"Âge"}]},
 "view":{"fill":"#efefef","stroke":"#222","strokeWidth":1.5},
 "layer":[
  {"mark":{"type":"rect","color":"#e5e5e5"},"encoding":{"x":{"datum":20.76,"type":"quantitative","scale":{"domain":[-0.63,26.72],"nice":false,"zero":false},"axis":null},"x2":{"datum":25.88}}},
  {"mark":{"type":"text","align":"left","baseline":"middle","fontSize":16,"font":"Open Sans","color":"#111"},"encoding":{"text":{"field":"stat"},"x":{"datum":0.2,"type":"quantitative","axis":null}}},
  {"mark":{"type":"text","align":"left","baseline":"middle","fontSize":16,"font":"Open Sans","color":"#111"},"encoding":{"text":{"field":"var"},"x":{"datum":20.93,"type":"quantitative","axis":null}}}
 ]},
{"width":320,"height":21,
 "data":{"values":[{"stat":"sd","var":"Âge"}]},
 "view":{"fill":"#efefef","stroke":"#222","strokeWidth":1.5},
 "layer":[
  {"mark":{"type":"rect","color":"#e5e5e5"},"encoding":{"x":{"datum":19.94,"type":"quantitative","scale":{"domain":[-0.63,26.72],"nice":false,"zero":false},"axis":null},"x2":{"datum":25.26}}},
  {"mark":{"type":"text","align":"left","baseline":"middle","fontSize":16,"font":"Open Sans","color":"#111"},"encoding":{"text":{"field":"stat"},"x":{"datum":0.23,"type":"quantitative","axis":null}}},
  {"mark":{"type":"text","align":"left","baseline":"middle","fontSize":16,"font":"Open Sans","color":"#111"},"encoding":{"text":{"field":"var"},"x":{"datum":20.14,"type":"quantitative","axis":null}}}
 ]},
{"width":320,"height":185,
 "data":{"name":"traces"},
 "mark":{"type":"line","strokeWidth":1.2},
 "encoding":{
  "x":{"field":"i","type":"quantitative","scale":{"domain":[-0.63,26.72],"nice":false,"zero":false},"axis":{"values":[0,5,10,15,20,25],"title":null,"tickSize":8,"labelPadding":9}},
  "y":{"field":"m","type":"quantitative","scale":{"domain":[45.938,47.372],"nice":false,"zero":false},"axis":{"values":[46,46.3333,46.6667,47,47.3333],"labelExpr":"(datum.value==46||datum.value==47)?format(datum.value,'d'):''","title":null,"labelAngle":270,"labelAlign":"center","labelBaseline":"bottom","tickSize":9,"labelPadding":2}},
  "color":{"field":"k","type":"nominal","legend":null,"sort":null}
 }},
{"width":320,"height":185,
 "data":{"name":"traces"},
 "mark":{"type":"line","strokeWidth":1.2},
 "encoding":{
  "x":{"field":"i","type":"quantitative","scale":{"domain":[-0.63,26.72],"nice":false,"zero":false},"axis":{"values":[0,5,10,15,20,25],"title":null,"tickSize":8,"labelPadding":9}},
  "y":{"field":"s","type":"quantitative","scale":{"domain":[0.403,0.5115],"nice":false,"zero":false},"axis":{"values":[0.42,0.44,0.46,0.48,0.5],"labelExpr":"replace(format(datum.value,'.2f'),'.',',')","title":null,"labelAngle":270,"labelAlign":"center","labelBaseline":"bottom","tickSize":9,"labelPadding":2}},
  "color":{"field":"k","type":"nominal","legend":null,"sort":null}
 }}
]
}
